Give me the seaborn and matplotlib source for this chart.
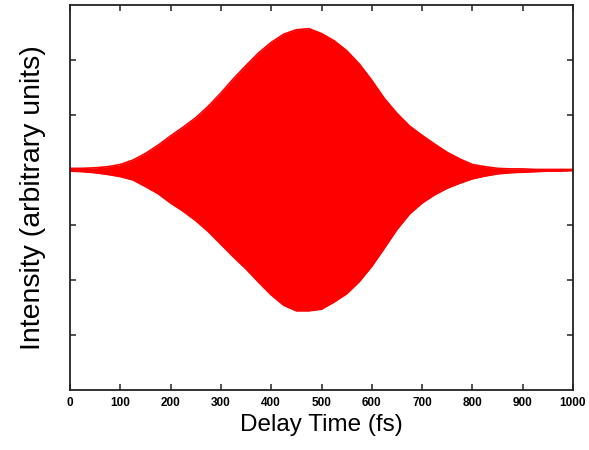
import matplotlib
matplotlib.use("Agg")
import matplotlib.pyplot as plt
import seaborn as sns
import pandas as pd

# Interferogram envelope: delay (fs) and upper / lower fringe extrema (arb. units)
delay_fs = [0, 25, 50, 75, 100, 125, 150, 175, 200, 225, 250, 275, 300, 325,
            350, 375, 400, 425, 450, 475, 500, 525, 550, 575, 600, 625, 650,
            675, 700, 725, 750, 775, 800, 825, 850, 875, 900, 925, 950, 975, 1000]
upper_env = [0.03, 0.03, 0.04, 0.06, 0.10, 0.18, 0.30, 0.45, 0.62, 0.78, 0.95,
             1.16, 1.40, 1.66, 1.90, 2.13, 2.32, 2.47, 2.55, 2.57, 2.48, 2.35,
             2.17, 1.93, 1.63, 1.30, 1.03, 0.80, 0.63, 0.47, 0.32, 0.20, 0.10,
             0.06, 0.03, 0.02, 0.02, 0.01, 0.01, 0.01, 0.01]
lower_env = [-0.02, -0.03, -0.05, -0.08, -0.12, -0.18, -0.30, -0.43, -0.60,
             -0.75, -0.92, -1.12, -1.35, -1.58, -1.80, -2.04, -2.27, -2.46,
             -2.56, -2.56, -2.53, -2.40, -2.25, -2.03, -1.75, -1.42, -1.08,
             -0.80, -0.60, -0.45, -0.33, -0.24, -0.16, -0.11, -0.07, -0.05,
             -0.04, -0.03, -0.02, -0.02, -0.01]

x_ticks = [0, 100, 200, 300, 400, 500, 600, 700, 800, 900, 1000]
x_tick_labels = [str(v) for v in x_ticks]
y_ticks = [-3, -2, -1, 0, 1, 2]

df = pd.DataFrame({"delay": delay_fs, "upper": upper_env, "lower": lower_env})

sns.set_style("ticks")
plt.rcParams["font.family"] = ["Liberation Sans", "DejaVu Sans"]
plt.rcParams["text.color"] = "black"
plt.rcParams["axes.labelcolor"] = "black"

fig = plt.figure(figsize=(5.89, 4.5), dpi=100)
ax = fig.add_axes([70 / 589, 1 - 390 / 450, 503 / 589, 385 / 450])

red = "#ff0000"
ax.fill_between(df["delay"], df["lower"], df["upper"], color=red, lw=0)
sns.lineplot(data=df, x="delay", y="upper", color=red, lw=1.2, ax=ax)
sns.lineplot(data=df, x="delay", y="lower", color=red, lw=1.2, ax=ax)

ax.set_xlim(0, 1000)
ax.set_ylim(-4, 3)
ax.set_xticks(x_ticks)
ax.set_xticklabels(x_tick_labels, family=["Liberation Sans Narrow", "Liberation Sans"],
                   fontsize=8.5, fontweight="bold")
ax.set_yticks(y_ticks)
ax.set_yticklabels([])

ax.tick_params(direction="in", length=4, width=1.1, color="#222222",
               top=True, right=True, pad=5, labelcolor="black")
for s in ax.spines.values():
    s.set_visible(True)
    s.set_linewidth(1.3)
    s.set_color("#222222")

ax.set_xlabel("Delay Time (fs)", fontsize=17.5, labelpad=4, color="black")
ax.set_ylabel("Intensity (arbitrary units)", fontsize=20.5, labelpad=12, color="black")

fig.savefig("out.png", dpi=100, facecolor="white")
